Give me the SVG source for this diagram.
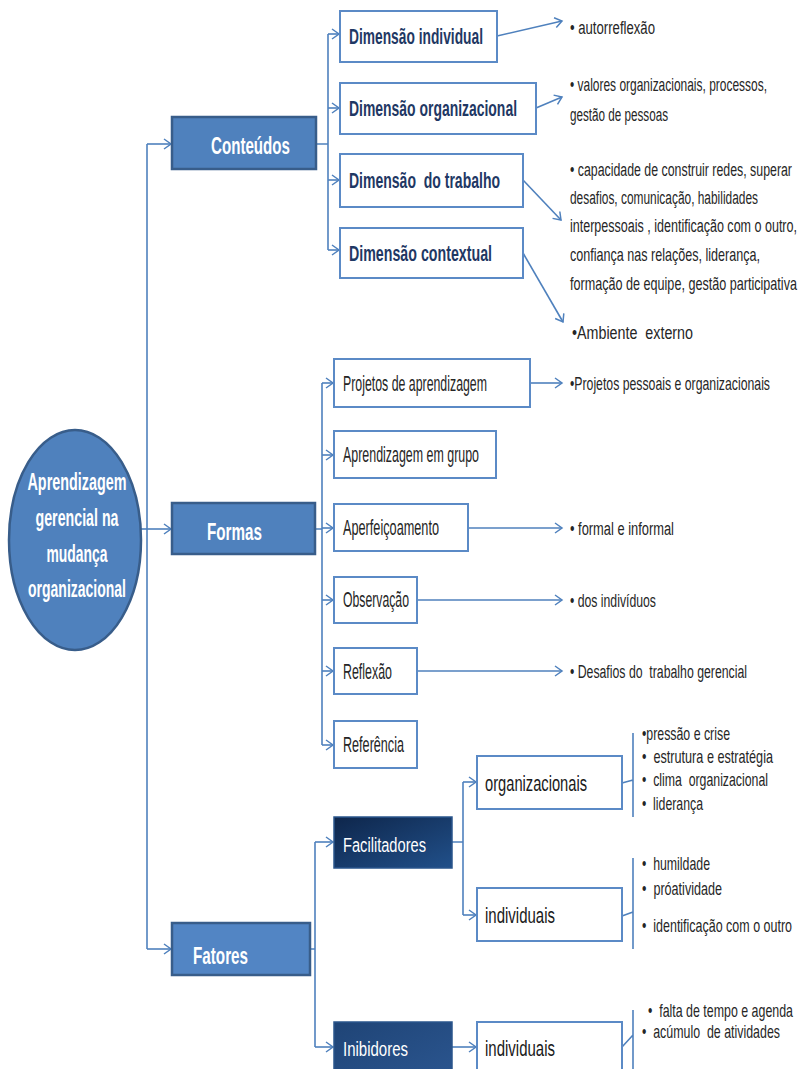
<svg xmlns="http://www.w3.org/2000/svg" width="800" height="1069" viewBox="0 0 800 1069">
<style>
text{font-family:"Liberation Sans",Arial,sans-serif}
.c{fill:none;stroke:#4f81bd;stroke-width:1.6}
.a{marker-end:url(#ah)}
.wb{fill:#fff;stroke:#5b8ac6;stroke-width:2}
.bb{fill:#4f81bd;stroke:#385d8a;stroke-width:2.5}
.dim{font-weight:bold;fill:#1f3864}
.wt{font-weight:bold;fill:#fff}
.ft{fill:#fff}
.fl{fill:#262626}
.bl{fill:#262626}
.sb{fill:#262626}
.ind{fill:#1a1a1a}
.pre{white-space:pre}
</style>
<defs>
<marker id="ah" markerWidth="10" markerHeight="12" refX="8" refY="6" orient="auto" markerUnits="userSpaceOnUse">
<path d="M1,1 L8,6 L1,11" fill="none" stroke="#4f81bd" stroke-width="1.5"/>
</marker>
<linearGradient id="gFac" x1="0" y1="0" x2="1" y2="1">
<stop offset="0" stop-color="#0e264b"/>
<stop offset="1" stop-color="#21508a"/>
</linearGradient>
<linearGradient id="gInb" x1="0" y1="0" x2="1" y2="1">
<stop offset="0" stop-color="#1f4476"/>
<stop offset="1" stop-color="#2b5690"/>
</linearGradient>
</defs>
<rect width="800" height="1069" fill="#fff"/>

<g id="connectors">
<path class="c" d="M147,144 V949"/>
<path class="c a" d="M147,144 H171"/>
<path class="c a" d="M141,529 H171"/>
<path class="c a" d="M147,949 H171"/>
<path class="c" d="M316,144 H328 M328,34 V250"/>
<path class="c a" d="M328,34 H339"/>
<path class="c a" d="M328,108 H339"/>
<path class="c a" d="M328,180 H339"/>
<path class="c a" d="M328,250 H339"/>
<path class="c a" d="M497,36 L562,21"/>
<path class="c a" d="M536,108 L562,97"/>
<path class="c a" d="M523,180 L561,220"/>
<path class="c a" d="M523,253 L563,322"/>
<path class="c" d="M315,529 H322 M322,383 V745"/>
<path class="c a" d="M322,383 H333"/>
<path class="c a" d="M322,455 H333"/>
<path class="c a" d="M322,528 H333"/>
<path class="c a" d="M322,600 H333"/>
<path class="c a" d="M322,671 H333"/>
<path class="c a" d="M322,745 H333"/>
<path class="c a" d="M530,383 H562"/>
<path class="c a" d="M468,528 H562"/>
<path class="c a" d="M417,600 H562"/>
<path class="c a" d="M417,671 H562"/>
<path class="c" d="M310,949 H315 M315,842 V1047"/>
<path class="c a" d="M315,842 H333"/>
<path class="c a" d="M315,1047 H333"/>
<path class="c" d="M452,842 H463 M463,782 V915"/>
<path class="c a" d="M463,782 H476"/>
<path class="c a" d="M463,915 H476"/>
<path class="c a" d="M452,1047 H476"/>
<path class="c" d="M622,783 L633,780 M633,733 V817"/>
<path class="c" d="M622,916 L633,912 M633,858 V949"/>
<path class="c" d="M622,1047 L633,1035 M633,1010 V1069"/>
</g>

<g id="root">
<ellipse cx="75" cy="540" rx="66" ry="110" class="bb"/>
<text class="wt" x="77" y="490" font-size="14.37" transform="matrix(1 0 0 1.601 0 -294.5)" text-anchor="middle" textLength="99" lengthAdjust="spacingAndGlyphs">Aprendizagem</text>
<text class="wt" x="77" y="526" font-size="14.22" transform="matrix(1 0 0 1.617 0 -324.5)" text-anchor="middle" textLength="83" lengthAdjust="spacingAndGlyphs">gerencial na</text>
<text class="wt" x="77" y="562" font-size="13.9" transform="matrix(1 0 0 1.655 0 -368.1)" text-anchor="middle" textLength="61" lengthAdjust="spacingAndGlyphs">mudança</text>
<text class="wt" x="77" y="597" font-size="14.0" transform="matrix(1 0 0 1.643 0 -383.9)" text-anchor="middle" textLength="98" lengthAdjust="spacingAndGlyphs">organizacional</text>
</g>

<g id="conteudos">
<rect x="172" y="117" width="144" height="52" class="bb"/>
<text class="wt" x="211" y="154" font-size="15.13" transform="matrix(1 0 0 1.52 0 -80.08)" textLength="79" lengthAdjust="spacingAndGlyphs">Conteúdos</text>
</g>
<g id="dim-individual">
<rect x="340" y="11" width="157" height="51" class="wb"/>
<text class="dim" x="349" y="44" font-size="13.78" transform="matrix(1 0 0 1.597 0 -26.27)" textLength="134" lengthAdjust="spacingAndGlyphs">Dimensão individual</text>
</g>
<g id="dim-organizacional">
<rect x="340" y="83" width="196" height="51" class="wb"/>
<text class="dim" x="349" y="116" font-size="13.93" transform="matrix(1 0 0 1.579 0 -67.16)" textLength="168" lengthAdjust="spacingAndGlyphs">Dimensão organizacional</text>
</g>
<g id="dim-trabalho">
<rect x="340" y="154" width="183" height="53" class="wb"/>
<text class="dim pre" x="349" y="188" font-size="14.01" transform="matrix(1 0 0 1.57 0 -107.2)" textLength="151" lengthAdjust="spacingAndGlyphs">Dimensão  do trabalho</text>
</g>
<g id="dim-contextual">
<rect x="340" y="228" width="183" height="50" class="wb"/>
<text class="dim" x="349" y="261" font-size="14.22" transform="matrix(1 0 0 1.547 0 -142.8)" textLength="143" lengthAdjust="spacingAndGlyphs">Dimensão contextual</text>
</g>
<g id="txt-autorreflexao">
<text class="bl" x="570" y="34" font-size="13.15" transform="matrix(1 0 0 1.445 0 -15.13)" textLength="85" lengthAdjust="spacingAndGlyphs">• autorreflexão</text>
</g>
<g id="txt-valores">
<text class="bl" x="570" y="91" font-size="11.96" transform="matrix(1 0 0 1.589 0 -53.6)" textLength="197" lengthAdjust="spacingAndGlyphs">• valores organizacionais, processos,</text>
<text class="bl" x="570" y="121" font-size="11.67" transform="matrix(1 0 0 1.628 0 -75.99)" textLength="98" lengthAdjust="spacingAndGlyphs">gestão de pessoas</text>
</g>
<g id="txt-capacidade">
<text class="bl" x="570" y="176" font-size="12.35" transform="matrix(1 0 0 1.538 0 -94.69)" textLength="222" lengthAdjust="spacingAndGlyphs">• capacidade de construir redes, superar</text>
<text class="bl" x="570" y="204" font-size="11.91" transform="matrix(1 0 0 1.595 0 -121.4)" textLength="188" lengthAdjust="spacingAndGlyphs">desafios, comunicação, habilidades</text>
<text class="bl" x="570" y="232" font-size="12.53" transform="matrix(1 0 0 1.516 0 -119.7)" textLength="227" lengthAdjust="spacingAndGlyphs">interpessoais , identificação com o outro,</text>
<text class="bl" x="570" y="261" font-size="12.57" transform="matrix(1 0 0 1.512 0 -133.6)" textLength="190" lengthAdjust="spacingAndGlyphs">confiança nas relações, liderança,</text>
<text class="bl" x="570" y="290" font-size="12.6" transform="matrix(1 0 0 1.508 0 -147.3)" textLength="227" lengthAdjust="spacingAndGlyphs">formação de equipe, gestão participativa</text>
</g>
<g id="txt-ambiente">
<text class="bl pre" x="572" y="339" font-size="14.29" transform="matrix(1 0 0 1.33 0 -111.9)" textLength="121" lengthAdjust="spacingAndGlyphs">•Ambiente  externo</text>
</g>

<g id="formas">
<rect x="172" y="503" width="143" height="51" class="bb"/>
<text class="wt" x="207" y="540" font-size="15.23" transform="matrix(1 0 0 1.51 0 -275.4)" textLength="55" lengthAdjust="spacingAndGlyphs">Formas</text>
</g>
<g id="f-projetos">
<rect x="334" y="359" width="196" height="48" class="wb"/>
<text class="fl" x="343" y="391" font-size="12.34" transform="matrix(1 0 0 1.742 0 -290.1)" textLength="144" lengthAdjust="spacingAndGlyphs">Projetos de aprendizagem</text>
</g>
<g id="f-grupo">
<rect x="334" y="431" width="162" height="47" class="wb"/>
<text class="fl" x="343" y="462" font-size="12.42" transform="matrix(1 0 0 1.731 0 -337.7)" textLength="136" lengthAdjust="spacingAndGlyphs">Aprendizagem em grupo</text>
</g>
<g id="f-aperfeicoamento">
<rect x="334" y="504" width="134" height="47" class="wb"/>
<text class="fl" x="343" y="535" font-size="12.7" transform="matrix(1 0 0 1.693 0 -370.8)" textLength="96" lengthAdjust="spacingAndGlyphs">Aperfeiçoamento</text>
</g>
<g id="f-observacao">
<rect x="334" y="577" width="83" height="46" class="wb"/>
<text class="fl" x="343" y="607" font-size="12.24" transform="matrix(1 0 0 1.757 0 -459.5)" textLength="66" lengthAdjust="spacingAndGlyphs">Observação</text>
</g>
<g id="f-reflexao">
<rect x="334" y="648" width="83" height="46" class="wb"/>
<text class="fl" x="343" y="679" font-size="12.42" transform="matrix(1 0 0 1.731 0 -496.3)" textLength="49" lengthAdjust="spacingAndGlyphs">Reflexão</text>
</g>
<g id="f-referencia">
<rect x="334" y="721" width="83" height="47" class="wb"/>
<text class="fl" x="343" y="752" font-size="12.62" transform="matrix(1 0 0 1.704 0 -529.4)" textLength="61" lengthAdjust="spacingAndGlyphs">Referência</text>
</g>
<g id="txt-projetos">
<text class="bl" x="570" y="390" font-size="12.27" transform="matrix(1 0 0 1.548 0 -213.7)" textLength="200" lengthAdjust="spacingAndGlyphs">•Projetos pessoais e organizacionais</text>
</g>
<g id="txt-formal">
<text class="bl" x="570" y="535" font-size="12.88" transform="matrix(1 0 0 1.475 0 -254.1)" textLength="104" lengthAdjust="spacingAndGlyphs">• formal e informal</text>
</g>
<g id="txt-individuos">
<text class="bl" x="570" y="607" font-size="12.25" transform="matrix(1 0 0 1.551 0 -334.5)" textLength="86" lengthAdjust="spacingAndGlyphs">• dos indivíduos</text>
</g>
<g id="txt-desafios">
<text class="bl pre" x="570" y="678" font-size="12.28" transform="matrix(1 0 0 1.547 0 -370.9)" textLength="177" lengthAdjust="spacingAndGlyphs">• Desafios do  trabalho gerencial</text>
</g>

<g id="fatores">
<rect x="172" y="923" width="138" height="52" class="bb" style="fill:#5285c4"/>
<text class="wt" x="193" y="964" font-size="15.23" transform="matrix(1 0 0 1.51 0 -491.6)" textLength="55" lengthAdjust="spacingAndGlyphs">Fatores</text>
</g>
<g id="facilitadores">
<rect x="334" y="817" width="118" height="51" fill="url(#gFac)" stroke="#2a558c" stroke-width="1.5"/>
<text class="ft" x="343" y="852" font-size="14.64" transform="matrix(1 0 0 1.434 0 -369.8)" textLength="83" lengthAdjust="spacingAndGlyphs">Facilitadores</text>
</g>
<g id="inibidores">
<rect x="334" y="1022" width="118" height="60" fill="url(#gInb)" stroke="#2a558c" stroke-width="1.5"/>
<text class="ft" x="343" y="1056" font-size="14.99" transform="matrix(1 0 0 1.401 0 -423.5)" textLength="65" lengthAdjust="spacingAndGlyphs">Inibidores</text>
</g>
<g id="fac-organizacionais">
<rect x="477" y="756" width="145" height="53" class="wb"/>
<text class="ind" x="485" y="791" font-size="14.68" transform="matrix(1 0 0 1.499 0 -394.7)" textLength="102" lengthAdjust="spacingAndGlyphs">organizacionais</text>
</g>
<g id="fac-individuais">
<rect x="477" y="888" width="145" height="53" class="wb"/>
<text class="ind" x="485" y="923" font-size="15" transform="matrix(1 0 0 1.467 0 -431.0)" textLength="70" lengthAdjust="spacingAndGlyphs">individuais</text>
</g>
<g id="inb-individuais">
<rect x="477" y="1022" width="145" height="60" class="wb"/>
<text class="ind" x="485" y="1056" font-size="15" transform="matrix(1 0 0 1.467 0 -493.2)" textLength="70" lengthAdjust="spacingAndGlyphs">individuais</text>
</g>
<g id="txt-org-list">
<text class="sb" x="642" y="740" font-size="12.34" transform="matrix(1 0 0 1.418 0 -309.3)" textLength="88" lengthAdjust="spacingAndGlyphs">•pressão e crise</text>
<text class="sb pre" x="642" y="763" font-size="12.65" transform="matrix(1 0 0 1.383 0 -292.2)" textLength="131" lengthAdjust="spacingAndGlyphs">•  estrutura e estratégia</text>
<text class="sb pre" x="642" y="786" font-size="12.04" transform="matrix(1 0 0 1.453 0 -356.1)" textLength="126" lengthAdjust="spacingAndGlyphs">•  clima  organizacional</text>
<text class="sb pre" x="642" y="810" font-size="12.29" transform="matrix(1 0 0 1.424 0 -343.4)" textLength="61" lengthAdjust="spacingAndGlyphs">•  liderança</text>
</g>
<g id="txt-ind-list">
<text class="sb pre" x="642" y="870" font-size="12.32" transform="matrix(1 0 0 1.42 0 -365.4)" textLength="68" lengthAdjust="spacingAndGlyphs">•  humildade</text>
<text class="sb pre" x="642" y="895" font-size="12.59" transform="matrix(1 0 0 1.39 0 -349.1)" textLength="80" lengthAdjust="spacingAndGlyphs">•  próatividade</text>
<text class="sb pre" x="642" y="932" font-size="12.48" transform="matrix(1 0 0 1.402 0 -374.7)" textLength="150" lengthAdjust="spacingAndGlyphs">•  identificação com o outro</text>
</g>
<g id="txt-inb-list">
<text class="sb pre" x="648" y="1017" font-size="12.4" transform="matrix(1 0 0 1.411 0 -418.0)" textLength="145" lengthAdjust="spacingAndGlyphs">•  falta de tempo e agenda</text>
<text class="sb pre" x="642" y="1038" font-size="12.4" transform="matrix(1 0 0 1.411 0 -426.6)" textLength="138" lengthAdjust="spacingAndGlyphs">•  acúmulo  de atividades</text>
</g>
</svg>
